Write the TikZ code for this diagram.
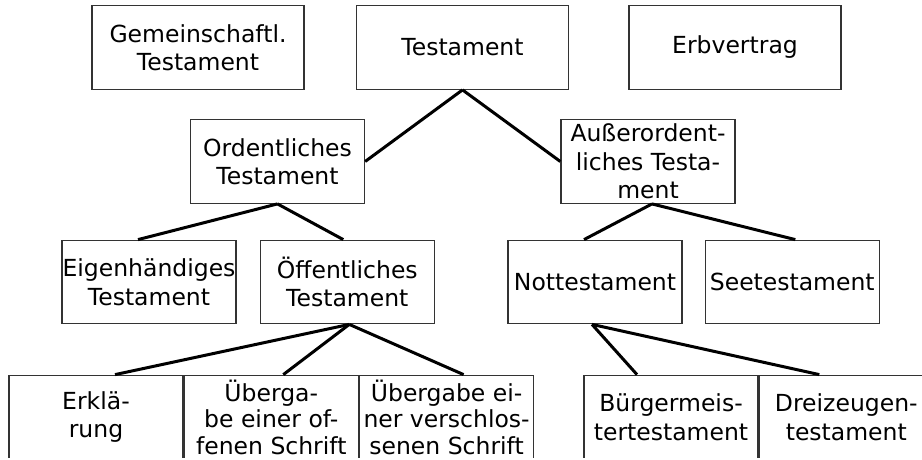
\documentclass[tikz,border=0pt]{standalone}
\usepackage{fontspec}
\setmainfont{DejaVu Sans}
\usepackage{tikz}
\usetikzlibrary{positioning}

\begin{document}
\begin{tikzpicture}[
  x=1pt, y=-1pt,
  box/.style={draw=black!80, line width=1.3pt, minimum width=174pt, minimum height=83.5pt, inner sep=0pt, align=center, font=\fontsize{23.5}{28.5}\selectfont},
  widebox/.style={box, minimum width=212pt},
  tightbox/.style={box, font=\fontsize{23.5}{26.5}\selectfont},
  link/.style={line width=3pt},
]
\useasboundingbox (0,0) rectangle (922,459);
\clip (0,0) rectangle (922,457.5);

\node[widebox] (gem) at (198,47.5) {Gemeinschaftl.\\Testament};
\node[widebox] (test) at (462.5,47.5) {Testament};
\node[widebox] (erb) at (735,47.5) {Erbvertrag};

\node[box] (ord) at (277.5,161.5) {Ordentliches\\Testament};
\node[box] (ausser) at (648,161.5) {Außerordent-\\liches Testa-\\ment};

\node[box] (eigen) at (149,282) {Eigenhändiges\\Testament};
\node[box, right=23pt of eigen] (oeff) {Öffentliches\\Testament};
\node[box] (nott) at (595,282) {Nottestament};
\node[box, right=22pt of nott] (see) {Seetestament};

\node[box] (erkl) at (96,417) {Erklä-\\rung};
\node[tightbox, right=0pt of erkl] (uoffen) {Überga-\\be einer of-\\fenen Schrift};
\node[tightbox, right=0pt of uoffen] (uversch) {Übergabe ei-\\ner verschlos-\\senen Schrift};
\node[box] (buerg) at (671,417) {Bürgermeis-\\tertestament};
\node[box, right=0pt of buerg] (drei) {Dreizeugen-\\testament};

\draw[link] (test.south) -- (ord.east);
\draw[link] (test.south) -- (ausser.west);
\draw[link] (ord.south) -- ([xshift=-11pt]eigen.north);
\draw[link] (ord.south) -- ([xshift=-4pt]oeff.north);
\draw[link] ([xshift=4pt]ausser.south) -- ([xshift=-11pt]nott.north);
\draw[link] ([xshift=4pt]ausser.south) -- ([xshift=3pt]see.north);
\draw[link] ([xshift=2pt]oeff.south) -- ([xshift=19pt]erkl.north);
\draw[link] ([xshift=2pt]oeff.south) -- ([xshift=12pt]uoffen.north);
\draw[link] ([xshift=2pt]oeff.south) -- ([xshift=17pt]uversch.north);
\draw[link] ([xshift=-3pt]nott.south) -- ([xshift=-34pt]buerg.north);
\draw[link] ([xshift=-3pt]nott.south) -- ([xshift=-27pt]drei.north);

\end{tikzpicture}
\end{document}
